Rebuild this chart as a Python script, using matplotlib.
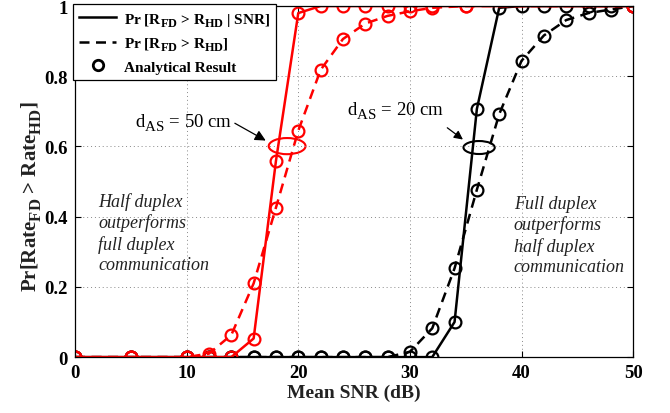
import matplotlib
matplotlib.use("Agg")
import matplotlib.pyplot as plt
from matplotlib.patches import Ellipse
from matplotlib.lines import Line2D

try:
    import matplotlib._mathtext as _mt
    _mt.SHRINK_FACTOR = 0.8
    _mt.FontConstantsBase.sub1 = 0.55
    _mt.FontConstantsBase.subdrop = 0.5
except Exception:
    pass

plt.rcParams['font.family'] = ['Liberation Serif', 'DejaVu Serif']
plt.rcParams['mathtext.fontset'] = 'custom'
plt.rcParams['mathtext.rm'] = 'Liberation Serif'
plt.rcParams['mathtext.bf'] = 'Liberation Serif:bold'
plt.rcParams['mathtext.it'] = 'Liberation Serif:italic'

# ---- data ----
snr_red = [0, 5, 10, 12, 14, 16, 18, 20, 22, 24, 26, 28, 30, 32, 35, 50]
red_cond = [0, 0, 0, 0, 0, 0.053, 0.559, 0.98, 1, 1, 1, 1, 1, 1, 1, 1]
red_avg = [0, 0, 0, 0.01, 0.063, 0.21, 0.426, 0.645, 0.818, 0.906, 0.95,
           0.972, 0.985, 0.995, 1, 1]

snr_black = [0, 5, 10, 12, 14, 16, 18, 20, 22, 24, 26, 28, 30, 32, 34, 36,
             38, 40, 42, 44, 46, 48, 50]
black_cond = [0, 0, 0, 0, 0, 0, 0, 0, 0, 0, 0, 0, 0, 0, 0.1, 0.707,
              0.995, 1, 1, 1, 1, 1, 1]
black_avg = [0, 0, 0, 0, 0, 0, 0, 0, 0, 0, 0, 0, 0.015, 0.082, 0.253, 0.477,
             0.692, 0.844, 0.916, 0.96, 0.98, 0.99, 1]

xticks = [0, 10, 20, 30, 40, 50]
xticklabels = ['0', '10', '20', '30', '40', '50']
yticks = [0, 0.2, 0.4, 0.6, 0.8, 1]
yticklabels = ['0', '0.2', '0.4', '0.6', '0.8', '1']

legend_labels = [r'Pr [R$_{\mathbf{FD}}$ > R$_{\mathbf{HD}}$ | SNR]',
                 r'Pr [R$_{\mathbf{FD}}$ > R$_{\mathbf{HD}}$]',
                 'Analytical Result']

fig = plt.figure(figsize=(6.7, 4.14), dpi=100)
ax = fig.add_axes([0.112, 0.135, 0.833, 0.848])

lw = 1.8
ms = 8.5
mew = 1.6
dash = (4, 2.6)

ax.plot(snr_black, black_cond, '-', color='black', lw=lw, marker='o', ms=ms,
        mfc='none', mew=mew)
ax.plot(snr_black, black_avg, color='black', lw=lw, marker='o', ms=ms,
        mfc='none', mew=mew, dashes=dash)
ax.plot(snr_red, red_avg, color='red', lw=lw, marker='o', ms=ms,
        mfc='none', mew=mew, dashes=dash)
ax.plot(snr_red, red_cond, '-', color='red', lw=lw, marker='o', ms=ms,
        mfc='none', mew=mew)

ax.set_xlim(0, 50)
ax.set_ylim(0, 1)
ax.set_xticks(xticks)
ax.set_xticklabels(xticklabels)
ax.set_yticks(yticks)
ax.set_yticklabels(yticklabels)
for lab in ax.get_xticklabels() + ax.get_yticklabels():
    lab.set_fontweight('bold')
    lab.set_fontsize(13.5)
ax.tick_params(direction='in', length=4, top=True, right=True, width=0.8, pad=5)
ax.grid(True, linestyle=(0, (1, 3)), color='#888888', linewidth=0.7)
for s in ax.spines.values():
    s.set_linewidth(0.9)

ax.set_xlabel('Mean SNR (dB)', fontsize=14, fontweight='bold', labelpad=2,
              color='#222222')
ax.set_ylabel(r'Pr[Rate$_{\mathbf{FD}}$ > Rate$_{\mathbf{HD}}$]', fontsize=15,
              fontweight='bold', color='#222222')
ax.yaxis.set_label_coords(-0.056, 0.46)

# legend
handles = [Line2D([], [], color='black', lw=lw),
           Line2D([], [], color='black', lw=lw, dashes=dash),
           Line2D([], [], color='black', lw=0, marker='o', ms=ms - 1,
                  mfc='none', mew=mew + 0.4)]
leg = ax.legend(handles, legend_labels, loc='upper left',
                bbox_to_anchor=(-0.004, 1.005), borderaxespad=0,
                fancybox=False, edgecolor='black', framealpha=1,
                prop={'weight': 'bold', 'size': 11}, handlelength=2.4,
                labelspacing=0.45, handletextpad=0.5, borderpad=0.42)
leg.get_frame().set_linewidth(0.9)

# ellipses and annotations
ax.add_patch(Ellipse((19.0, 0.601), 3.3, 0.046, fill=False, edgecolor='red',
                     lw=1.5))
ax.add_patch(Ellipse((36.2, 0.597), 2.8, 0.037, fill=False, edgecolor='black',
                     lw=1.5))

ax.text(5.4, 0.658, r'd$_{\mathrm{AS}}$ = 50 cm', fontsize=13.5, va='baseline',
        ha='left')
ax.annotate('', xy=(17.3, 0.613), xytext=(14.1, 0.670),
            arrowprops=dict(arrowstyle='-|>', color='black', lw=0.9,
                            mutation_scale=16))
ax.text(24.4, 0.692, r'd$_{\mathrm{AS}}$ = 20 cm', fontsize=13.5, va='baseline',
        ha='left')
ax.annotate('', xy=(34.95, 0.615), xytext=(33.15, 0.658),
            arrowprops=dict(arrowstyle='-|>', color='black', lw=0.9,
                            mutation_scale=13))

ax.text(2.1, 0.47, 'Half duplex\noutperforms\nfull duplex\ncommunication',
        fontsize=13, fontstyle='italic', va='top', ha='left', linespacing=1.25,
        color='#222222')
ax.text(39.3, 0.462, 'Full duplex\noutperforms\nhalf duplex\ncommunication',
        fontsize=13, fontstyle='italic', va='top', ha='left', linespacing=1.25,
        color='#222222')

fig.savefig('out.png', dpi=100)
